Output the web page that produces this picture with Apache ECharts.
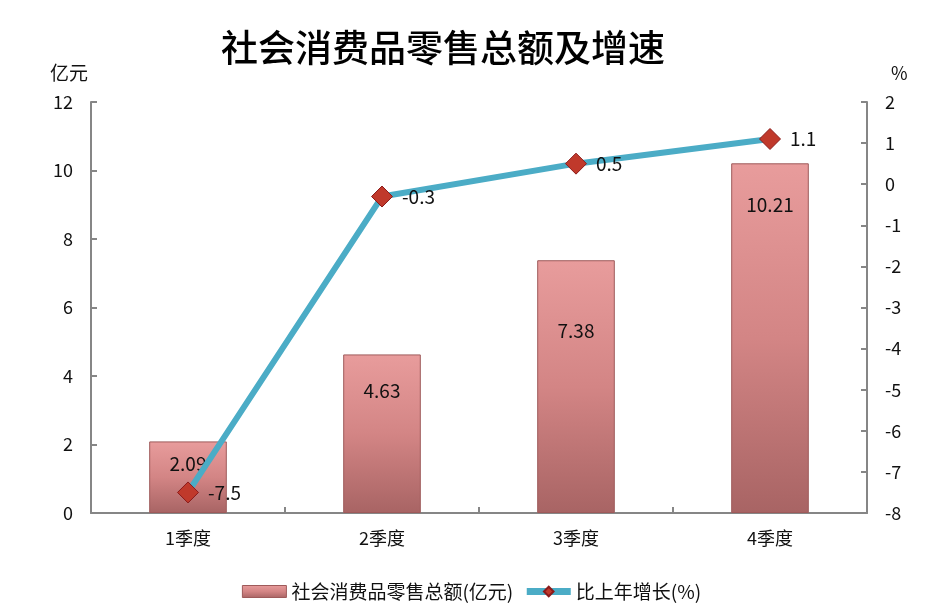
<!DOCTYPE html>
<html><head><meta charset="utf-8">
<script src="https://cdn.jsdelivr.net/npm/echarts@6/dist/echarts.min.js"></script>
<style>html,body{margin:0;padding:0;background:#fff}#c{width:943px;height:616px}</style>
</head><body><div id="c"></div>
<script>
const categories = ['1季度','2季度','3季度','4季度'];
const salesValues = [2.09, 4.63, 7.38, 10.21];
const growthValues = [-7.5, -0.3, 0.5, 1.1];
const leftTicks = {min:0, max:12, interval:2};
const rightTicks = {min:-8, max:2, interval:1};
// label placement inside each bar (style, not data)
const barLabelGap = [13, 27, 61, 32];

const chart = echarts.init(document.getElementById('c'));
const font = '"Noto Sans CJK SC", "Noto Sans", sans-serif';
const axisLine = {show:true, lineStyle:{color:'#868686', width:2}};
const tick = {show:true, inside:true, length:6, lineStyle:{color:'#868686', width:2}};
chart.setOption({
  animation:false,
  textStyle:{fontFamily:font},
  title:{text:'社会消费品零售总额及增速', left:216, top:24,
    textStyle:{fontSize:37, fontWeight:500, color:'#000', fontFamily:font}},
  legend:{bottom:10, left:'center', itemGap:10, itemWidth:44, itemHeight:12,
    textStyle:{fontSize:19, color:'#111', fontFamily:font},
    data:[{name:'社会消费品零售总额(亿元)', icon:'rect', itemStyle:{borderWidth:1}},
          {name:'比上年增长(%)', lineStyle:{width:7}}]},
  grid:{left:91, right:76, top:102, bottom:103},
  xAxis:{type:'category', data:categories, axisLine:axisLine, axisTick:tick,
    axisLabel:{fontSize:18, color:'#111', margin:16}},
  yAxis:[
    {type:'value', min:leftTicks.min, max:leftTicks.max, interval:leftTicks.interval,
     name:'亿元', nameLocation:'end', nameGap:20, nameTextStyle:{fontSize:19, color:'#111', align:'right', padding:[0,3,0,0]},
     axisLine:axisLine, axisTick:tick,
     splitLine:{show:false}, axisLabel:{fontSize:18, color:'#111', margin:18}},
    {type:'value', min:rightTicks.min, max:rightTicks.max, interval:rightTicks.interval,
     name:'%', nameLocation:'end', nameGap:20, nameTextStyle:{fontSize:18, color:'#111', align:'left', padding:[0,0,0,24]},
     axisLine:axisLine, axisTick:tick,
     splitLine:{show:false}, axisLabel:{fontSize:18, color:'#111', margin:18}}
  ],
  series:[
    {name:'社会消费品零售总额(亿元)', type:'bar', yAxisIndex:0, barWidth:'40%',
     data:salesValues.map((v,i)=>({value:v, label:{distance:barLabelGap[i]}})),
     itemStyle:{color:new echarts.graphic.LinearGradient(0,0,0,1,[
        {offset:0,color:'#E89C9C'},{offset:0.5,color:'#D38585'},{offset:1,color:'#A86464'}]),
       borderColor:'#9E5A5A', borderWidth:1},
     label:{show:true, position:'insideTop', fontSize:19, color:'#111'}},
    {name:'比上年增长(%)', type:'line', data:growthValues, yAxisIndex:1,
     lineStyle:{color:'#4BACC6', width:6}, symbol:'diamond', symbolSize:21,
     itemStyle:{color:'#C0392B', borderColor:'#8B1A1A', borderWidth:1},
     label:{show:true, position:'right', distance:9, fontSize:19, color:'#111'}}
  ]
});
</script></body></html>
